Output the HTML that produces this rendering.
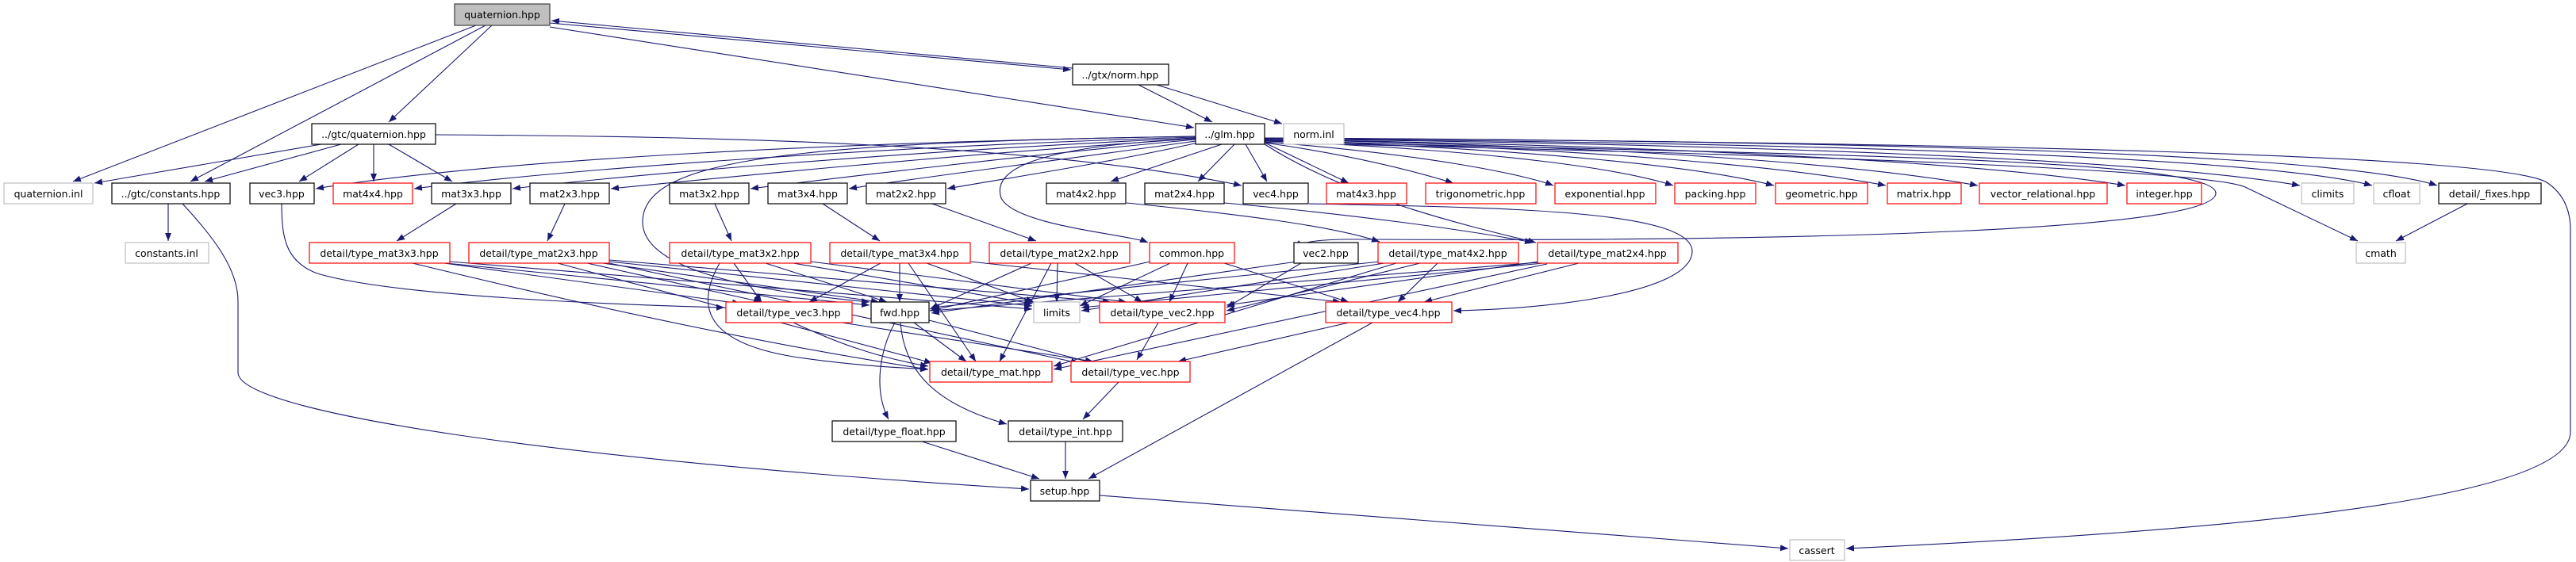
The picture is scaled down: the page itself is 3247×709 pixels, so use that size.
<!DOCTYPE html>
<html><head><meta charset="utf-8"><style>
html,body{margin:0;padding:0;background:#fff;}
svg{display:block;}
text{font-family:"DejaVu Sans","Liberation Sans",sans-serif;font-size:12.5px;fill:#000;}
.e{fill:none;stroke:#191970;stroke-width:1.1;marker-end:url(#a);}
.n rect{fill:#fff;stroke-width:1.2;}
</style></head><body>
<svg width="3247" height="709" viewBox="0 0 3247 709" xmlns="http://www.w3.org/2000/svg">
<defs><marker id="a" markerUnits="userSpaceOnUse" markerWidth="11" markerHeight="9" refX="10" refY="4" orient="auto"><path d="M0,0 L10,4 L0,8 z" fill="#191970"/></marker></defs>
<g>
<path class="e" d="M600,32 L92,229"/>
<path class="e" d="M612,32 L240,229"/>
<path class="e" d="M620,32 L490,154"/>
<path class="e" d="M693,29 L1350,88"/>
<path class="e" d="M1352,86 L695,26"/>
<path class="e" d="M693,34 L1505,161"/>
<path class="e" d="M1435,107 L1528,154"/>
<path class="e" d="M1458,107 L1616,156"/>
<path class="e" d="M405,182 L119,231"/>
<path class="e" d="M430,182 L258,229"/>
<path class="e" d="M452,182 L377,229"/>
<path class="e" d="M471,182 L471,229"/>
<path class="e" d="M490,182 L570,229"/>
<path class="e" d="M549,170 C900,172 1300,180 1565,234"/>
<path class="e" d="M1507,172 C1000,180 600,205 398,238"/>
<path class="e" d="M1507,173 C1100,185 700,215 522,238"/>
<path class="e" d="M1507,174 C1150,190 800,220 646,238"/>
<path class="e" d="M1507,175 C1200,195 900,225 770,238"/>
<path class="e" d="M1507,176 C1300,195 1050,225 946,238"/>
<path class="e" d="M1507,178 C1350,200 1150,225 1070,238"/>
<path class="e" d="M1510,180 C1400,205 1250,228 1194,238"/>
<path class="e" d="M1540,182 L1400,229"/>
<path class="e" d="M1556,182 L1510,229"/>
<path class="e" d="M1570,182 L1597,229"/>
<path class="e" d="M1594,180 L1700,231"/>
<path class="e" d="M1594,180 C1700,195 1780,215 1832,231"/>
<path class="e" d="M1594,179 C1800,195 1920,220 1958,234"/>
<path class="e" d="M1594,178 C1900,190 2050,215 2109,234"/>
<path class="e" d="M1594,177 C1950,188 2150,212 2236,234"/>
<path class="e" d="M1594,177 C2000,186 2250,210 2377,234"/>
<path class="e" d="M1594,176 C2050,184 2350,208 2493,234"/>
<path class="e" d="M1594,176 C2100,183 2500,205 2679,234"/>
<path class="e" d="M1594,175 C2200,182 2700,200 2899,234"/>
<path class="e" d="M1594,175 C2300,180 2850,198 2990,234"/>
<path class="e" d="M1594,174 C2400,178 2950,195 3072,234"/>
<path class="e" d="M1594,180 C2300,195 2780,215 2830,236 L2972,304"/>
<path class="e" d="M1594,174 C2500,180 3150,195 3210,230 Q3240,250 3240,290 L3240,545 C3240,640 2700,675 2327,692"/>
<path class="e" d="M1594,178 C2300,195 2795,200 2793,244 C2790,290 2300,305 1720,302 C1660,301 1640,306 1631,312"/>
<path class="e" d="M1594,182 C1700,250 1850,285 1936,306"/>
<path class="e" d="M1507,175 C1300,185 1250,215 1262,250 C1280,285 1420,295 1447,306"/>
<path class="e" d="M1507,172 C1000,180 810,200 810,280 C810,350 1000,372 1096,381"/>
<path class="e" d="M212,257 L212,304"/>
<path class="e" d="M230,257 C270,300 300,340 300,380 L300,470 C300,520 700,580 1297,617"/>
<path class="e" d="M355,257 C355,300 360,330 400,345 C500,375 800,385 913,388"/>
<path class="e" d="M575,257 L500,304"/>
<path class="e" d="M712,257 L690,304"/>
<path class="e" d="M901,257 L922,304"/>
<path class="e" d="M1037,257 L1109,304"/>
<path class="e" d="M1175,257 L1306,304"/>
<path class="e" d="M1420,256 C1560,270 1680,285 1739,305"/>
<path class="e" d="M1543,256 C1700,270 1850,290 1932,306"/>
<path class="e" d="M1650,257 C1900,262 2135,265 2133,318 C2130,370 1950,390 1832,392"/>
<path class="e" d="M560,332 L933,383"/>
<path class="e" d="M562,332 L1096,385"/>
<path class="e" d="M567,330 L1301,390"/>
<path class="e" d="M520,332 C800,400 1000,440 1170,466"/>
<path class="e" d="M740,332 L960,381"/>
<path class="e" d="M760,332 L1108,381"/>
<path class="e" d="M768,330 L1301,386"/>
<path class="e" d="M768,328 L1400,381"/>
<path class="e" d="M703,332 L1175,458"/>
<path class="e" d="M768,332 L1360,458"/>
<path class="e" d="M925,332 L960,381"/>
<path class="e" d="M965,332 L1118,381"/>
<path class="e" d="M1000,332 L1301,383"/>
<path class="e" d="M1022,330 L1420,381"/>
<path class="e" d="M907,332 C880,380 880,430 1000,450 C1080,462 1140,464 1170,466"/>
<path class="e" d="M1110,332 L1020,381"/>
<path class="e" d="M1134,332 L1134,381"/>
<path class="e" d="M1168,332 L1303,381"/>
<path class="e" d="M1145,332 L1230,456"/>
<path class="e" d="M1223,330 L1690,381"/>
<path class="e" d="M1300,332 L1172,390"/>
<path class="e" d="M1333,332 L1332,381"/>
<path class="e" d="M1355,332 L1440,381"/>
<path class="e" d="M1325,332 L1260,456"/>
<path class="e" d="M1450,330 L1172,392"/>
<path class="e" d="M1475,332 L1361,386"/>
<path class="e" d="M1497,332 L1474,381"/>
<path class="e" d="M1543,332 L1700,381"/>
<path class="e" d="M1640,332 L1546,388"/>
<path class="e" d="M1635,330 L1174,395"/>
<path class="e" d="M1790,332 L1546,392"/>
<path class="e" d="M1812,332 L1762,381"/>
<path class="e" d="M1740,330 L1174,388"/>
<path class="e" d="M1745,332 L1363,392"/>
<path class="e" d="M1760,332 L1328,462"/>
<path class="e" d="M1990,332 L1795,381"/>
<path class="e" d="M1940,330 L1546,385"/>
<path class="e" d="M1940,331 L1174,392"/>
<path class="e" d="M1945,332 L1363,388"/>
<path class="e" d="M1950,333 L1328,466"/>
<path class="e" d="M1061,407 L1378,456"/>
<path class="e" d="M1000,407 C1050,430 1100,450 1170,462"/>
<path class="e" d="M1152,407 L1218,456"/>
<path class="e" d="M1171,404 L1378,458"/>
<path class="e" d="M1128,407 C1110,440 1100,490 1120,529"/>
<path class="e" d="M1135,407 C1140,470 1180,510 1269,535"/>
<path class="e" d="M1460,407 L1433,454"/>
<path class="e" d="M1700,407 L1485,456"/>
<path class="e" d="M1730,407 L1372,604"/>
<path class="e" d="M1410,482 L1365,529"/>
<path class="e" d="M1162,557 L1310,604"/>
<path class="e" d="M1343,557 L1343,604"/>
<path class="e" d="M1386,625 L2254,692"/>
<path class="e" d="M3110,257 L3020,304"/>
</g>
<g class="n">
<rect x="573" y="5" width="120" height="27" style="fill:#bfbfbf;stroke:#404040"/><text x="633" y="23" text-anchor="middle">quaternion.hpp</text>
<rect x="1352" y="81" width="121" height="26" stroke="#000"/><text x="1412" y="99" text-anchor="middle">../gtx/norm.hpp</text>
<rect x="393" y="156" width="156" height="26" stroke="#000"/><text x="471" y="174" text-anchor="middle">../gtc/quaternion.hpp</text>
<rect x="1507" y="156" width="87" height="26" stroke="#000"/><text x="1550" y="174" text-anchor="middle">../glm.hpp</text>
<rect x="1618" y="156" width="76" height="26" stroke="#bfbfbf"/><text x="1656" y="174" text-anchor="middle">norm.inl</text>
<rect x="5" y="231" width="112" height="26" stroke="#bfbfbf"/><text x="61" y="249" text-anchor="middle">quaternion.inl</text>
<rect x="141" y="231" width="149" height="26" stroke="#000"/><text x="215" y="249" text-anchor="middle">../gtc/constants.hpp</text>
<rect x="315" y="231" width="81" height="26" stroke="#000"/><text x="355" y="249" text-anchor="middle">vec3.hpp</text>
<rect x="420" y="231" width="100" height="26" stroke="#f00"/><text x="470" y="249" text-anchor="middle">mat4x4.hpp</text>
<rect x="544" y="231" width="100" height="26" stroke="#000"/><text x="594" y="249" text-anchor="middle">mat3x3.hpp</text>
<rect x="668" y="231" width="100" height="26" stroke="#000"/><text x="718" y="249" text-anchor="middle">mat2x3.hpp</text>
<rect x="844" y="231" width="100" height="26" stroke="#000"/><text x="894" y="249" text-anchor="middle">mat3x2.hpp</text>
<rect x="968" y="231" width="100" height="26" stroke="#000"/><text x="1018" y="249" text-anchor="middle">mat3x4.hpp</text>
<rect x="1092" y="231" width="100" height="26" stroke="#000"/><text x="1142" y="249" text-anchor="middle">mat2x2.hpp</text>
<rect x="1319" y="231" width="100" height="26" stroke="#000"/><text x="1369" y="249" text-anchor="middle">mat4x2.hpp</text>
<rect x="1443" y="231" width="100" height="26" stroke="#000"/><text x="1493" y="249" text-anchor="middle">mat2x4.hpp</text>
<rect x="1567" y="231" width="82" height="26" stroke="#000"/><text x="1608" y="249" text-anchor="middle">vec4.hpp</text>
<rect x="1672" y="231" width="101" height="26" stroke="#f00"/><text x="1722" y="249" text-anchor="middle">mat4x3.hpp</text>
<rect x="1797" y="231" width="139" height="26" stroke="#f00"/><text x="1866" y="249" text-anchor="middle">trigonometric.hpp</text>
<rect x="1960" y="231" width="127" height="26" stroke="#f00"/><text x="2023" y="249" text-anchor="middle">exponential.hpp</text>
<rect x="2111" y="231" width="102" height="26" stroke="#f00"/><text x="2162" y="249" text-anchor="middle">packing.hpp</text>
<rect x="2238" y="231" width="116" height="26" stroke="#f00"/><text x="2296" y="249" text-anchor="middle">geometric.hpp</text>
<rect x="2379" y="231" width="93" height="26" stroke="#f00"/><text x="2425" y="249" text-anchor="middle">matrix.hpp</text>
<rect x="2495" y="231" width="161" height="26" stroke="#f00"/><text x="2575" y="249" text-anchor="middle">vector_relational.hpp</text>
<rect x="2681" y="231" width="94" height="26" stroke="#f00"/><text x="2728" y="249" text-anchor="middle">integer.hpp</text>
<rect x="2901" y="231" width="66" height="26" stroke="#bfbfbf"/><text x="2934" y="249" text-anchor="middle">climits</text>
<rect x="2992" y="231" width="58" height="26" stroke="#bfbfbf"/><text x="3021" y="249" text-anchor="middle">cfloat</text>
<rect x="3074" y="231" width="129" height="26" stroke="#000"/><text x="3138" y="249" text-anchor="middle">detail/_fixes.hpp</text>
<rect x="158" y="306" width="105" height="26" stroke="#bfbfbf"/><text x="210" y="324" text-anchor="middle">constants.inl</text>
<rect x="390" y="306" width="177" height="26" stroke="#f00"/><text x="478" y="324" text-anchor="middle">detail/type_mat3x3.hpp</text>
<rect x="591" y="306" width="177" height="26" stroke="#f00"/><text x="679" y="324" text-anchor="middle">detail/type_mat2x3.hpp</text>
<rect x="844" y="306" width="178" height="26" stroke="#f00"/><text x="933" y="324" text-anchor="middle">detail/type_mat3x2.hpp</text>
<rect x="1046" y="306" width="177" height="26" stroke="#f00"/><text x="1134" y="324" text-anchor="middle">detail/type_mat3x4.hpp</text>
<rect x="1247" y="306" width="177" height="26" stroke="#f00"/><text x="1335" y="324" text-anchor="middle">detail/type_mat2x2.hpp</text>
<rect x="1449" y="306" width="107" height="26" stroke="#f00"/><text x="1502" y="324" text-anchor="middle">common.hpp</text>
<rect x="1631" y="306" width="81" height="26" stroke="#000"/><text x="1671" y="324" text-anchor="middle">vec2.hpp</text>
<rect x="1737" y="306" width="177" height="26" stroke="#f00"/><text x="1825" y="324" text-anchor="middle">detail/type_mat4x2.hpp</text>
<rect x="1938" y="306" width="177" height="26" stroke="#f00"/><text x="2026" y="324" text-anchor="middle">detail/type_mat2x4.hpp</text>
<rect x="2970" y="306" width="62" height="26" stroke="#bfbfbf"/><text x="3001" y="324" text-anchor="middle">cmath</text>
<rect x="915" y="381" width="159" height="26" stroke="#f00"/><text x="994" y="399" text-anchor="middle">detail/type_vec3.hpp</text>
<rect x="1098" y="381" width="73" height="26" stroke="#000"/><text x="1134" y="399" text-anchor="middle">fwd.hpp</text>
<rect x="1303" y="381" width="58" height="26" stroke="#bfbfbf"/><text x="1332" y="399" text-anchor="middle">limits</text>
<rect x="1386" y="381" width="158" height="26" stroke="#f00"/><text x="1465" y="399" text-anchor="middle">detail/type_vec2.hpp</text>
<rect x="1671" y="381" width="159" height="26" stroke="#f00"/><text x="1750" y="399" text-anchor="middle">detail/type_vec4.hpp</text>
<rect x="1172" y="456" width="154" height="26" stroke="#f00"/><text x="1249" y="474" text-anchor="middle">detail/type_mat.hpp</text>
<rect x="1350" y="456" width="150" height="26" stroke="#f00"/><text x="1425" y="474" text-anchor="middle">detail/type_vec.hpp</text>
<rect x="1049" y="531" width="156" height="26" stroke="#000"/><text x="1127" y="549" text-anchor="middle">detail/type_float.hpp</text>
<rect x="1271" y="531" width="144" height="26" stroke="#000"/><text x="1343" y="549" text-anchor="middle">detail/type_int.hpp</text>
<rect x="1299" y="606" width="87" height="26" stroke="#000"/><text x="1342" y="624" text-anchor="middle">setup.hpp</text>
<rect x="2256" y="681" width="69" height="26" stroke="#bfbfbf"/><text x="2290" y="699" text-anchor="middle">cassert</text>
</g>
</svg>
</body></html>
